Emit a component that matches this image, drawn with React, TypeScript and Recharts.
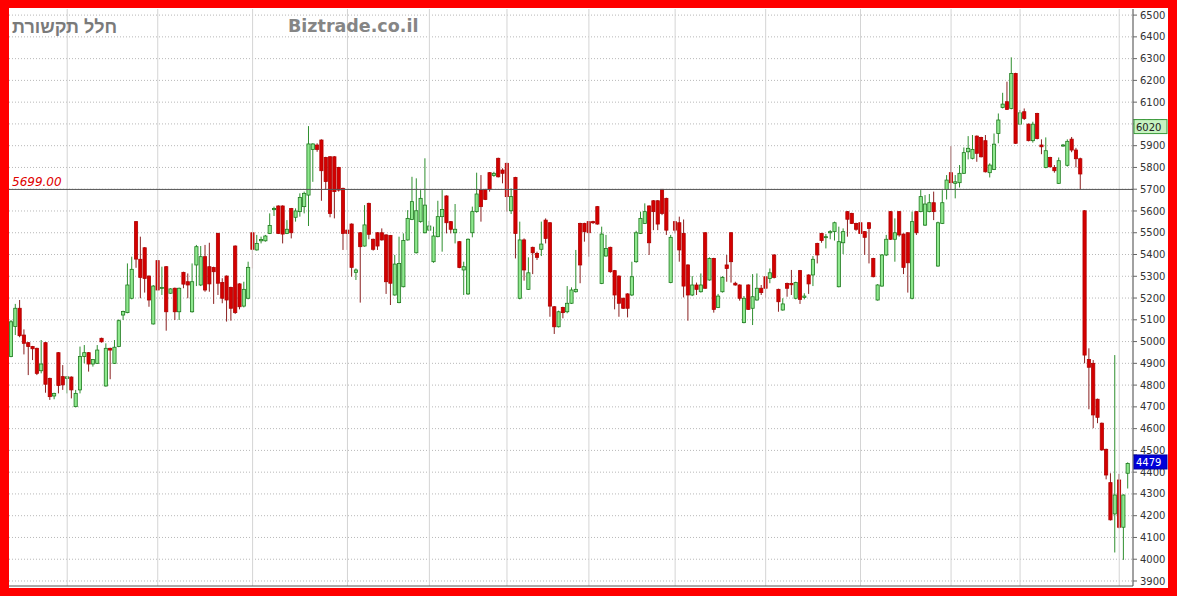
import React from "react";
import { ComposedChart, Bar, XAxis, YAxis, CartesianGrid, ReferenceLine } from "recharts";

// daily OHLC (260 sessions)
const opens = [
  4931, 5069, 5153, 5030, 4995, 4977, 4969, 4866, 4995, 4831,
  4750, 4949, 4839, 4831, 4837, 4701, 4778, 4931, 4949, 4897,
  4900, 5015, 4796, 4969, 4900, 4977, 5122, 5133, 5199, 5551,
  5378, 5431, 5301, 5081, 5372, 5245, 5344, 5222, 5245, 5137,
  5318, 5275, 5137, 5352, 5260, 5390, 5344, 5340, 5497, 5271,
  5301, 5249, 5439, 5265, 5163, 5199, 5500, 5421, 5463, 5463,
  5497, 5606, 5623, 5623, 5497, 5611, 5571, 5597, 5620, 5673,
  5883, 5903, 5926, 5846, 5849, 5849, 5800, 5704, 5512, 5540,
  5318, 5500, 5439, 5635, 5470, 5500, 5500, 5490, 5487, 5214,
  5179, 5252, 5467, 5561, 5408, 5551, 5500, 5512, 5367, 5482,
  5574, 5669, 5551, 5500, 5459, 5329, 5219, 5500, 5597, 5696,
  5699, 5776, 5763, 5842, 5788, 5819, 5601, 5754, 5199, 5467,
  5240, 5433, 5405, 5424, 5558, 5546, 5160, 5068, 5157, 5137,
  5176, 5229, 5543, 5543, 5551, 5551, 5620, 5267, 5393, 5433,
  5326, 5301, 5199, 5219, 5214, 5367, 5497, 5543, 5623, 5647,
  5647, 5699, 5658, 5271, 5551, 5546, 5497, 5352, 5214, 5260,
  5229, 5500, 5283, 5382, 5157, 5229, 5352, 5500, 5268, 5260,
  5087, 5260, 5153, 5191, 5245, 5298, 5290, 5398, 5240, 5145,
  5267, 5267, 5199, 5326, 5203, 5306, 5306, 5451, 5497, 5479,
  5500, 5505, 5252, 5454, 5597, 5589, 5543, 5546, 5505, 5546,
  5382, 5191, 5255, 5398, 5597, 5470, 5597, 5494, 5500, 5199,
  5597, 5597, 5535, 5597, 5638, 5347, 5543, 5699, 5776, 5727,
  5730, 5773, 5872, 5842, 5944, 5938, 5923, 5776, 5791, 5956,
  6076, 6102, 6071, 6232, 5999, 6056, 5999, 5923, 6048, 5903,
  5800, 5846, 5800, 5727, 5899, 5810, 5930, 5880, 5840, 5601,
  4918, 4900, 4735, 4625, 4505, 4352, 4208, 4364, 4147, 4395,
];

const highs = [
  5099, 5173, 5191, 5056, 4998, 4980, 4972, 5007, 4998, 4834,
  4765, 4952, 4892, 4840, 4840, 4778, 4977, 4984, 4952, 4920,
  4984, 5018, 4992, 4972, 5007, 5102, 5142, 5359, 5390, 5554,
  5482, 5434, 5304, 5260, 5375, 5344, 5347, 5245, 5248, 5248,
  5321, 5313, 5359, 5444, 5439, 5444, 5454, 5344, 5500, 5291,
  5304, 5252, 5442, 5268, 5275, 5367, 5503, 5490, 5482, 5490,
  5589, 5620, 5626, 5626, 5558, 5614, 5612, 5681, 5689, 5990,
  5911, 5911, 5929, 5849, 5852, 5852, 5803, 5707, 5515, 5543,
  5336, 5503, 5627, 5638, 5473, 5503, 5520, 5493, 5490, 5398,
  5482, 5497, 5604, 5757, 5750, 5696, 5842, 5554, 5528, 5647,
  5696, 5672, 5554, 5632, 5462, 5367, 5474, 5620, 5776, 5765,
  5702, 5779, 5780, 5845, 5796, 5822, 5704, 5757, 5551, 5474,
  5387, 5436, 5413, 5551, 5566, 5549, 5163, 5142, 5160, 5255,
  5249, 5421, 5546, 5546, 5554, 5555, 5623, 5528, 5490, 5436,
  5329, 5304, 5202, 5222, 5367, 5509, 5597, 5635, 5626, 5650,
  5650, 5702, 5661, 5490, 5554, 5574, 5561, 5355, 5301, 5271,
  5313, 5503, 5387, 5385, 5219, 5301, 5398, 5503, 5275, 5263,
  5209, 5263, 5310, 5313, 5260, 5301, 5336, 5401, 5243, 5199,
  5271, 5329, 5275, 5329, 5222, 5309, 5393, 5454, 5500, 5494,
  5512, 5551, 5528, 5520, 5600, 5592, 5546, 5549, 5508, 5549,
  5385, 5264, 5402, 5490, 5600, 5566, 5600, 5497, 5503, 5597,
  5600, 5696, 5673, 5678, 5689, 5551, 5696, 5765, 5898, 5765,
  5811, 5892, 5944, 5949, 5947, 5941, 5949, 5819, 5956, 6048,
  6143, 6194, 6306, 6235, 6064, 6071, 6002, 6010, 6051, 5929,
  5938, 5849, 5811, 5846, 5908, 5929, 5940, 5890, 5845, 5604,
  4969, 4915, 4738, 4628, 4508, 4395, 4938, 4392, 4298, 4445,
];

const lows = [
  4928, 5030, 5020, 4941, 4846, 4915, 4846, 4854, 4765, 4732,
  4735, 4762, 4778, 4762, 4739, 4698, 4762, 4900, 4862, 4885,
  4897, 4995, 4793, 4827, 4897, 4974, 5099, 5130, 5194, 5339,
  5199, 5225, 5160, 5078, 5234, 5214, 5050, 5219, 5099, 5099,
  5245, 5199, 5133, 5255, 5255, 5229, 5229, 5173, 5214, 5176,
  5092, 5096, 5127, 5148, 5157, 5194, 5336, 5418, 5451, 5459,
  5494, 5577, 5494, 5451, 5494, 5474, 5551, 5574, 5589, 5531,
  5734, 5872, 5647, 5699, 5571, 5566, 5689, 5421, 5421, 5298,
  5283, 5179, 5436, 5470, 5418, 5421, 5464, 5219, 5168, 5211,
  5176, 5249, 5464, 5558, 5405, 5546, 5497, 5509, 5362, 5479,
  5413, 5497, 5497, 5451, 5337, 5214, 5214, 5479, 5592, 5551,
  5650, 5689, 5757, 5754, 5727, 5597, 5586, 5382, 5194, 5280,
  5237, 5310, 5375, 5393, 5451, 5114, 5035, 5065, 5107, 5130,
  5173, 5225, 5268, 5459, 5390, 5540, 5537, 5264, 5390, 5316,
  5148, 5114, 5150, 5111, 5209, 5362, 5494, 5540, 5398, 5512,
  5512, 5581, 5490, 5268, 5497, 5367, 5203, 5096, 5209, 5214,
  5225, 5242, 5280, 5133, 5154, 5225, 5275, 5271, 5257, 5188,
  5084, 5145, 5076, 5188, 5214, 5199, 5268, 5290, 5137, 5142,
  5206, 5214, 5194, 5173, 5194, 5219, 5255, 5359, 5454, 5428,
  5470, 5464, 5249, 5402, 5482, 5540, 5509, 5494, 5398, 5359,
  5295, 5188, 5252, 5393, 5467, 5367, 5482, 5310, 5225, 5194,
  5490, 5594, 5531, 5594, 5558, 5344, 5540, 5653, 5699, 5658,
  5708, 5770, 5837, 5837, 5826, 5846, 5777, 5754, 5788, 5911,
  6071, 6064, 6067, 5908, 5995, 6018, 5920, 5914, 5929, 5861,
  5796, 5800, 5776, 5724, 5895, 5804, 5870, 5800, 5699, 4900,
  4689, 4602, 4625, 4499, 4367, 4178, 4031, 4142, 3997, 4325,
];

const closes = [
  5091, 5153, 5027, 4992, 4977, 4967, 4854, 4897, 4804, 4747,
  4762, 4798, 4801, 4838, 4778, 4762, 4931, 4949, 4897, 4918,
  4961, 4999, 4969, 4961, 4974, 5096, 5138, 5260, 5332, 5379,
  5295, 5290, 5191, 5255, 5237, 5249, 5137, 5242, 5137, 5245,
  5264, 5260, 5275, 5436, 5390, 5237, 5265, 5321, 5268, 5199,
  5191, 5153, 5133, 5160, 5240, 5341, 5424, 5451, 5469, 5485,
  5533, 5611, 5497, 5494, 5516, 5500, 5600, 5662, 5681, 5908,
  5908, 5883, 5785, 5735, 5589, 5689, 5696, 5497, 5497, 5341,
  5329, 5436, 5536, 5493, 5424, 5439, 5467, 5275, 5268, 5356,
  5359, 5464, 5566, 5643, 5601, 5658, 5627, 5531, 5485, 5574,
  5607, 5546, 5516, 5516, 5340, 5344, 5470, 5597, 5678, 5620,
  5653, 5699, 5773, 5757, 5773, 5666, 5666, 5497, 5467, 5329,
  5316, 5408, 5387, 5448, 5474, 5163, 5068, 5137, 5133, 5176,
  5237, 5240, 5352, 5505, 5500, 5546, 5540, 5494, 5428, 5321,
  5214, 5176, 5153, 5153, 5298, 5500, 5566, 5597, 5454, 5597,
  5540, 5589, 5512, 5479, 5512, 5421, 5255, 5214, 5260, 5240,
  5260, 5245, 5382, 5148, 5209, 5295, 5336, 5367, 5260, 5199,
  5199, 5148, 5206, 5245, 5225, 5245, 5316, 5295, 5183, 5173,
  5245, 5261, 5271, 5194, 5209, 5265, 5378, 5398, 5464, 5482,
  5505, 5546, 5459, 5505, 5562, 5543, 5516, 5497, 5479, 5520,
  5298, 5260, 5398, 5470, 5470, 5500, 5490, 5341, 5362, 5551,
  5500, 5666, 5632, 5638, 5597, 5546, 5638, 5742, 5730, 5734,
  5773, 5868, 5888, 5883, 5865, 5849, 5780, 5811, 5907, 6018,
  6091, 6067, 6232, 5911, 6051, 6025, 5923, 5999, 5933, 5895,
  5877, 5803, 5785, 5831, 5903, 5920, 5880, 5840, 5770, 4938,
  4882, 4663, 4652, 4502, 4387, 4181, 4295, 4147, 4295, 4440,
];

// first session of each month (vertical grid)
const monthStarts = [13, 34, 56, 78, 97, 115, 134, 154, 175, 197, 218, 234, 257];

const priceTicks = [
  3900, 4000, 4100, 4200, 4300, 4400, 4500, 4600, 4700, 4800, 4900, 5000, 5100, 5200,
  5300, 5400, 5500, 5600, 5700, 5800, 5900, 6000, 6100, 6200, 6300, 6400, 6500,
];

const levelLine = 5699;
const tagGreen = 6020;
const tagLast = 4479;

const data = opens.map((o, i) => ({
  i,
  open: o,
  high: highs[i],
  low: lows[i],
  close: closes[i],
}));

const FONT = "'DejaVu Sans', Verdana, sans-serif";
const TICK_SIZE = 4;
const TICK_MARGIN = 3;

function Candle(props: any) {
  const { x, y, width, height, payload } = props;
  if (!payload) return null;
  const { open, close, high, low } = payload;
  const top = Math.min(y, y + height);
  const h = Math.abs(height);
  const cx = x + width / 2;
  const k = h / (high - low);
  const bTop = top + (high - Math.max(open, close)) * k;
  const bBot = top + (high - Math.min(open, close)) * k;
  const up = close >= open;
  return (
    <g>
      <line x1={cx} x2={cx} y1={top} y2={top + h} stroke={up ? "#2f8f2f" : "#8a2020"} strokeWidth={1} />
      <rect
        x={cx - 1.6}
        y={bTop}
        width={3.2}
        height={Math.max(bBot - bTop, 1)}
        fill={up ? "#8ee88e" : "#d40000"}
        stroke={up ? "#1e7a1e" : "#b00000"}
        strokeWidth={0.8}
      />
    </g>
  );
}

// axis labels; the two price tags come last in the tick list so they sit on top
function AxisTick({ x, y, payload }: any) {
  const v = payload.value;
  if (v === tagGreen || v === tagLast) {
    const left = x - TICK_SIZE - TICK_MARGIN + 1;
    const green = v === tagGreen;
    return (
      <g>
        <rect
          x={left}
          y={y}
          width={33}
          height={14}
          fill={green ? "#c6f2c0" : "#0000d8"}
          stroke={green ? "#3a9a3a" : "#0000a0"}
          strokeWidth={1}
        />
        <text x={left + 2} y={y + 11} fontSize={10} fontFamily={FONT} fill={green ? "#222" : "#fff"}>
          {v}
        </text>
      </g>
    );
  }
  return (
    <text x={x} y={y} dy="0.355em" fontSize={10} fontFamily={FONT} fill="#333" textAnchor="start">
      {v}
    </text>
  );
}

function LevelLabel({ viewBox }: any) {
  if (!viewBox) return null;
  return (
    <text x={viewBox.x + 3} y={viewBox.y - 3} fontSize={12} fontStyle="italic" fontFamily={FONT} fill="#e00000">
      {levelLine.toFixed(2)}
    </text>
  );
}

export default function App() {
  return (
    <div style={{ width: 1177, height: 596, background: "#ff0000", position: "relative", overflow: "hidden" }}>
      <style>{`body{margin:0}`}</style>
      <div style={{ position: "absolute", left: 9, top: 8, width: 1159, height: 580, background: "#fff" }}>
        <ComposedChart
          width={1159}
          height={580}
          data={data}
          margin={{ top: 1, right: 0, bottom: 2, left: 0 }}
          barCategoryGap={0}
        >
          <CartesianGrid vertical={false} horizontalValues={priceTicks} stroke="#b8b8b8" strokeDasharray="1 2" />
          {monthStarts.map((m) => (
            <ReferenceLine key={m} x={m} stroke="#d4d4d4" strokeWidth={1} />
          ))}
          <XAxis dataKey="i" hide padding={{ left: 0, right: 3 }} />
          <YAxis
            orientation="right"
            type="number"
            domain={[3877, 6528]}
            ticks={[...priceTicks, tagGreen, tagLast]}
            interval={0}
            allowDataOverflow
            width={35}
            tickSize={TICK_SIZE}
            tickMargin={TICK_MARGIN}
            tick={<AxisTick />}
            tickLine={{ stroke: "#666" }}
            axisLine={{ stroke: "#444" }}
          />
          <ReferenceLine y={3877} stroke="#555" strokeWidth={1} />
          <Bar dataKey={(d: any) => [d.low, d.high]} shape={<Candle />} isAnimationActive={false} />
          <ReferenceLine y={levelLine} stroke="#555" strokeWidth={1} label={<LevelLabel />} />
        </ComposedChart>
      </div>
      <div
        style={{
          position: "absolute",
          left: 12,
          top: 18,
          fontFamily: "'Liberation Sans', Arial, sans-serif",
          fontWeight: "bold",
          fontSize: 18,
          lineHeight: "18px",
          color: "#7a7a7a",
          whiteSpace: "nowrap",
        }}
      >
        חלל תקשורת
      </div>
      <div
        style={{
          position: "absolute",
          left: 288,
          top: 17,
          fontFamily: FONT,
          fontWeight: "bold",
          fontSize: 17.5,
          lineHeight: "18px",
          color: "#858585",
          whiteSpace: "nowrap",
        }}
      >
        Biztrade.co.il
      </div>
    </div>
  );
}
